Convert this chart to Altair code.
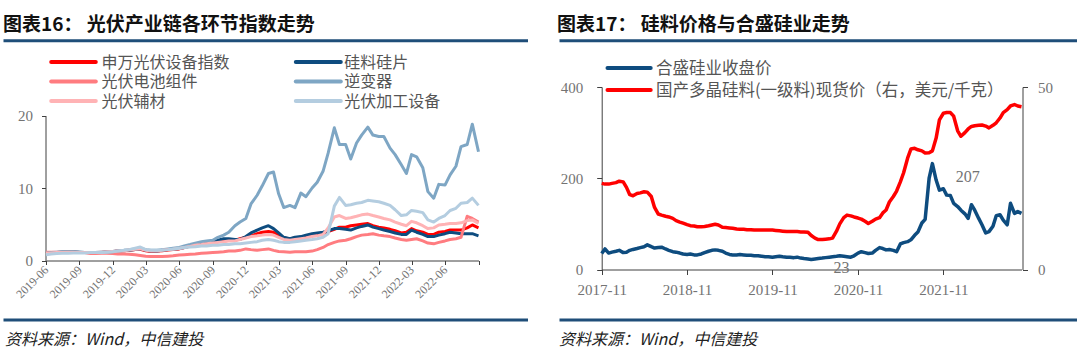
import altair as alt
import pandas as pd

W, H = 1080, 353

# ---------------- left panel: 光伏产业链各环节指数 (semi-monthly samples from 2019-06-01) ----------------
L_START = "2019-06-01"
L_NAMES = ["申万光伏设备指数", "硅料硅片", "光伏电池组件", "逆变器", "光伏辅材", "光伏加工设备"]
L_COLORS = ["#ff0000", "#0e4c7f", "#ff7c80", "#7ea6c4", "#ffb3b5", "#b4cde0"]

sw_index = [1.0, 1.05, 1.1, 1.15, 1.15, 1.15, 1.1, 1.1, 1.05, 1.05,
            1.1, 1.15, 1.2, 1.3, 1.35, 1.4, 1.5, 1.55, 1.35, 1.25,
            1.3, 1.35, 1.45, 1.5, 1.6, 1.8, 2.0, 2.2, 2.3, 2.4,
            2.5, 2.6, 2.7, 2.8, 2.8, 3.0, 3.2, 3.4, 3.7, 3.9,
            4.0, 3.9, 3.5, 3.1, 3.0, 3.1, 3.2, 3.4, 3.5, 3.6,
            3.7, 4.0, 4.3, 4.6, 4.6, 4.8, 4.9, 5.0, 5.1, 4.8,
            4.6, 4.5, 4.3, 4.1, 3.8, 3.9, 4.4, 4.1, 3.9, 3.6,
            3.6, 3.9, 4.0, 4.2, 4.2, 4.2, 4.5, 4.9, 4.5]
silicon_wafer = [1.0, 1.05, 1.1, 1.15, 1.2, 1.2, 1.15, 1.1, 1.1, 1.1,
                 1.15, 1.2, 1.25, 1.3, 1.35, 1.4, 1.5, 1.6, 1.4, 1.3,
                 1.3, 1.4, 1.5, 1.55, 1.65, 1.8, 2.0, 2.2, 2.3, 2.4,
                 2.5, 2.8, 3.0, 3.0, 2.9, 2.9, 3.3, 3.8, 4.2, 4.5,
                 4.8, 4.4, 3.8, 3.2, 3.0, 3.2, 3.3, 3.5, 3.7, 3.8,
                 3.9, 4.1, 4.4, 4.4, 4.3, 4.2, 4.5, 4.7, 4.9, 4.6,
                 4.4, 4.2, 4.0, 3.8, 3.6, 3.6, 4.2, 3.9, 3.6, 3.3,
                 3.3, 3.5, 3.7, 3.9, 3.8, 3.7, 3.7, 3.7, 3.4]
cell_module = [1.15, 1.15, 1.15, 1.15, 1.15, 1.1, 1.1, 1.1, 1.05, 1.0,
               1.0, 1.0, 0.95, 0.9, 0.9, 0.85, 0.8, 0.7, 0.6, 0.55,
               0.55, 0.55, 0.6, 0.65, 0.75, 0.8, 0.85, 0.9, 1.0, 1.05,
               1.1, 1.15, 1.2, 1.3, 1.3, 1.4, 1.6, 1.5, 1.4, 1.5,
               1.6, 1.4, 1.25, 1.2, 1.15, 1.2, 1.2, 1.2, 1.3, 1.5,
               1.8, 2.2, 2.5, 2.7, 2.8, 3.0, 3.3, 3.5, 3.6, 3.7,
               3.5, 3.4, 3.3, 3.1, 2.9, 2.8, 2.9, 3.0, 2.7, 2.4,
               2.3, 2.5, 2.7, 2.9, 3.0, 3.2, 6.1, 5.8, 5.3]
inverter = [1.0, 1.1, 1.15, 1.2, 1.2, 1.2, 1.15, 1.1, 1.1, 1.1,
            1.1, 1.15, 1.2, 1.3, 1.4, 1.5, 1.6, 1.7, 1.5, 1.4,
            1.4, 1.5, 1.6, 1.7, 1.8, 2.0, 2.2, 2.4, 2.6, 2.7,
            2.8, 3.2, 3.5, 3.9, 4.8, 5.3, 5.8, 7.8, 9.0, 10.3,
            12.0, 12.2, 9.2, 7.3, 7.6, 7.3, 9.3, 8.8, 10.0, 10.8,
            12.3, 14.8, 18.3, 16.0, 16.0, 14.0, 16.2, 17.3, 18.4, 17.3,
            17.1, 17.1, 15.5, 14.6, 13.2, 12.0, 14.6, 14.3, 12.8, 9.5,
            8.6, 10.5, 10.4, 11.8, 13.0, 15.7, 16.0, 18.8, 15.0]
auxiliary = [1.0, 1.05, 1.1, 1.1, 1.15, 1.15, 1.1, 1.1, 1.1, 1.1,
             1.15, 1.2, 1.25, 1.3, 1.35, 1.45, 1.55, 1.6, 1.4, 1.3,
             1.35, 1.4, 1.5, 1.55, 1.65, 1.8, 1.95, 2.1, 2.2, 2.3,
             2.4, 2.5, 2.6, 2.7, 2.7, 2.9, 3.1, 3.3, 3.4, 3.5,
             3.6, 3.5, 3.2, 2.9, 2.8, 2.9, 3.0, 3.1, 3.3, 3.4,
             3.6, 4.5, 6.0, 6.2, 5.8, 5.9, 6.1, 6.3, 6.4, 6.2,
             6.0, 5.8, 5.6, 5.3, 5.0, 4.8, 5.4, 5.2, 4.8, 4.4,
             4.5, 4.9, 5.0, 5.1, 5.1, 5.2, 5.5, 5.6, 5.1]
equipment = [0.8, 0.9, 0.95, 1.0, 1.0, 1.05, 1.05, 1.05, 1.1, 1.1,
             1.1, 1.15, 1.2, 1.3, 1.4, 1.5, 1.7, 1.85, 1.5, 1.4,
             1.4, 1.45, 1.5, 1.6, 1.7, 1.8, 1.85, 1.9, 2.0, 2.0,
             2.1, 2.1, 2.2, 2.2, 2.3, 2.3, 2.4, 2.5, 2.6, 2.8,
             2.9, 2.8, 2.6, 2.5, 2.5, 2.6, 2.7, 2.8, 2.9, 3.0,
             3.2, 3.7, 7.5, 8.7, 7.6, 7.7, 7.9, 8.0, 8.3, 8.2,
             8.1, 7.9, 7.6, 7.0, 6.2, 6.3, 6.9, 6.8, 6.6, 5.6,
             5.3, 5.8, 6.2, 6.9, 7.2, 7.9, 8.0, 8.6, 7.6]
L_VALUES = [sw_index, silicon_wafer, cell_module, inverter, auxiliary, equipment]
L_DOMAIN = ["2019-06-01", "2022-09-01"]
L_TICKS = ["2019-06", "2019-09", "2019-12", "2020-03", "2020-06", "2020-09", "2020-12",
           "2021-03", "2021-06", "2021-09", "2021-12", "2022-03", "2022-06", "2022-09"]
L_YTICKS = [0, 10, 20]

# ---------------- right panel: 硅料价格与合盛硅业 (semi-monthly samples from 2017-11-01) ----------------
R_START = "2017-11-01"
R_NAMES = ["合盛硅业收盘价", "国产多晶硅料(一级料)现货价（右，美元/千克）"]
R_COLORS = ["#0e4c7f", "#ff0000"]
hoshine = [35, 45, 36, 38, 40, 42, 37, 38, 42, 44,
           46, 48, 50, 54, 50, 47, 48, 49, 45, 42,
           39, 38, 36, 34, 33, 34, 32, 32, 34, 37,
           40, 42, 43, 42, 40, 36, 33, 32, 32, 33,
           32, 31, 31, 30, 30, 29, 28, 28, 27, 28,
           29, 28, 27, 27, 26, 27, 25, 24, 23, 22,
           23, 24, 25, 26, 27, 28, 29, 30, 29, 28,
           27, 30, 36, 39, 37, 35, 36, 42, 48, 46,
           43, 44, 42, 39, 56, 59, 61, 65, 75, 82,
           102, 110, 200, 232, 196, 174, 177, 163, 162, 145,
           138, 130, 122, 112, 142, 130, 112, 98, 80, 83,
           95, 118, 120, 108, 98, 145, 123, 127, 123]
polysilicon = [23.6, 23.4, 23.4, 23.6, 23.8, 24.2, 24.0, 22.5, 20.5, 20.2,
               20.8, 21.0, 21.3, 21.2, 20.0, 17.0, 15.2, 14.9, 14.6, 14.4,
               14.0, 13.4, 13.0, 12.7, 12.3, 12.0, 11.9, 11.7, 11.7, 11.8,
               12.0, 12.2, 12.4, 12.2, 11.6, 11.5, 11.4, 11.3, 11.1, 11.0,
               11.0, 10.9, 10.9, 10.8, 10.8, 10.8, 10.8, 10.8, 10.8, 10.7,
               10.6, 10.5, 10.4, 10.4, 10.4, 10.4, 10.3, 10.3, 10.2, 9.3,
               8.6, 8.2, 8.2, 8.3, 8.4, 8.6, 10.5, 12.5, 14.2, 14.9,
               14.7, 14.4, 14.1, 13.8, 13.2, 12.6, 13.2, 13.8, 14.2, 15.5,
               16.3, 18.5, 20.0, 21.5, 24.0, 26.5, 30.5, 33.0, 33.2, 32.8,
               32.5, 31.9, 32.0, 32.5, 36.0, 41.0, 42.8, 43.0, 43.0, 42.0,
               38.0, 36.5, 37.5, 38.5, 39.2, 39.4, 39.5, 39.6, 39.3, 38.8,
               39.5, 40.2, 41.5, 43.0, 43.8, 44.8, 45.2, 44.8, 44.6]
R_DOMAIN = ["2017-11-01", "2022-10-01"]
R_TICKS = ["2017-11", "2018-11", "2019-11", "2020-11", "2021-11"]
R_YTICKS_L = [0, 200, 400]
R_YTICKS_R = [0, 50]
ANN_TEXT = ["207", "23"]
ANN_DATE = ["2022-02-13", "2020-08-22"]
ANN_VALUE = [203, 3]

TITLES = ["图表16： 光伏产业链各环节指数走势", "图表17： 硅料价格与合盛硅业走势"]
SOURCE = "资料来源：Wind，中信建投"

# ---------------- styling / layout (pixels) ----------------
CJK = "Noto Sans CJK SC"
SERIF = "Liberation Serif"
AX = "#404040"
LAB = "#737373"
LEG = "#555555"
NAVY = "#1f4e79"

LX0, LX1, LYAX = 46.0, 478.5, 45.5
LY0, LY1 = 260.5, 115.5
RX0, RX1, RXR = 601.7, 1021.5, 1022.5
RY0, RY1 = 269.5, 87.0

ONE = alt.InlineData(values=[{"k": 0}])


def dt(s):
    p = [int(v) for v in s.split("-")]
    return alt.DateTime(year=p[0], month=p[1], date=p[2] if len(p) > 2 else 1)


def xenc(dom, r0, r1, axis):
    return alt.X("date:T", scale=alt.Scale(domain=[dt(dom[0]), dt(dom[1])], range=[r0, r1], nice=False), axis=axis)


def yenc(dom, r0, r1, axis):
    return alt.Y("v:Q", scale=alt.Scale(domain=dom, range=[r0, r1], nice=False, zero=False), axis=axis)


layers = []

# ---- left panel lines ----
l_dates = pd.date_range(L_START, periods=len(sw_index), freq="SMS")
lx_axis = alt.Axis(orient="bottom", offset=LY0 - H, values=[dt(t) for t in L_TICKS], format="%Y-%m",
                   labelExpr="year(datum.value) == 2022 && month(datum.value) == 8 ? '' : datum.label",
                   labelAngle=315, labelAlign="right", labelBaseline="middle", labelFont=SERIF,
                   labelFontSize=12, labelColor=LAB, labelPadding=3, tickSize=4, labelOverlap=False,
                   labelFlush=False, domainColor=AX, tickColor=AX, title="", grid=False)
ly_axis = alt.Axis(orient="left", offset=-LYAX, values=L_YTICKS, labelFont=SERIF, labelFontSize=15,
                   labelColor=LAB, labelPadding=9, tickSize=4, domainColor=AX, tickColor=AX,
                   title="", grid=False)
for i, (name, color, vals) in enumerate(zip(L_NAMES, L_COLORS, L_VALUES)):
    df = pd.DataFrame({"date": l_dates, "v": vals, "series": name})
    first = i == 0
    layers.append(
        alt.Chart(df).mark_line(color=color, strokeWidth=3, strokeJoin="round").encode(
            x=xenc(L_DOMAIN, LX0, LX1, lx_axis if first else None),
            y=yenc([0, 20], LY0, LY1, ly_axis if first else None),
        )
    )

# ---- right panel lines ----
r_dates = pd.date_range(R_START, periods=len(hoshine), freq="SMS")
rx_axis = alt.Axis(orient="bottom", offset=RY0 - H, values=[dt(t) for t in R_TICKS], format="%Y-%m",
                   labelAngle=0, labelAlign="center", labelBaseline="top", labelFont=SERIF,
                   labelFontSize=15, labelColor=LAB, labelPadding=8, tickSize=5, labelOverlap=False,
                   labelFlush=False, domainColor=AX, tickColor=AX, title="", grid=False)
ryl_axis = alt.Axis(orient="left", offset=-RX0, values=R_YTICKS_L, labelFont=SERIF, labelFontSize=15,
                    labelColor=LAB, labelPadding=14, tickSize=5, domainColor=AX, tickColor=AX,
                    title="", grid=False)
ryr_axis = alt.Axis(orient="right", offset=RXR - W, values=R_YTICKS_R, labelFont=SERIF, labelFontSize=15,
                    labelColor=LAB, labelPadding=10, tickSize=5, domainColor=AX, tickColor=AX,
                    title="", grid=False)

df_h = pd.DataFrame({"date": r_dates, "v": hoshine})
df_p = pd.DataFrame({"date": r_dates, "v": polysilicon})
layers.append(
    alt.Chart(df_h).mark_line(color=R_COLORS[0], strokeWidth=3.5, strokeJoin="round").encode(
        x=xenc(R_DOMAIN, RX0, RX1, rx_axis), y=yenc([0, 400], RY0, RY1, ryl_axis))
)
layers.append(
    alt.Chart(df_p).mark_line(color=R_COLORS[1], strokeWidth=3.5, strokeJoin="round").encode(
        x=xenc(R_DOMAIN, RX0, RX1, None), y=yenc([0, 50], RY0, RY1, ryr_axis))
)
df_ann = pd.DataFrame({"date": pd.to_datetime(ANN_DATE), "v": ANN_VALUE, "label": ANN_TEXT})
layers.append(
    alt.Chart(df_ann).mark_text(font=SERIF, fontSize=16, color=LAB, align="center", baseline="middle").encode(
        x=xenc(R_DOMAIN, RX0, RX1, None), y=yenc([0, 400], RY0, RY1, None), text="label:N")
)


# ---- decorations: titles, separators, sources ----
def text_layer(txt, x, y, **kw):
    return alt.Chart(ONE).mark_text(text=txt, align="left", baseline="middle", **kw).encode(
        x=alt.value(x), y=alt.value(y))


def rule_layer(x0, x1, y, color, width, cap="butt"):
    return alt.Chart(ONE).mark_rule(color=color, strokeWidth=width, strokeCap=cap).encode(
        x=alt.value(x0), x2=alt.value(x1), y=alt.value(y))


for title, x in zip(TITLES, [3, 557]):
    layers.append(text_layer(title, x, 24.5, font=CJK, fontSize=19, fontWeight="bold", color="#111111"))
for x0, x1 in [(3.5, 528), (559.5, 1077)]:
    layers.append(rule_layer(x0, x1, 40.7, NAVY, 3))
    layers.append(rule_layer(x0, x1, 320, NAVY, 3))
for x in [5, 559]:
    layers.append(text_layer(SOURCE, x, 339.5, font=CJK, fontSize=16, fontStyle="italic", color="#222222"))

# ---- legends (drawn as key lines + labels) ----
L_COLS = [(51.2, 95.8, 101.4), (295.8, 340.8, 344.3)]
L_ROWS = [62, 81.5, 101]
for i, (name, color) in enumerate(zip(L_NAMES, L_COLORS)):
    x0, x1, xt = L_COLS[i % 2]
    y = L_ROWS[i // 2]
    layers.append(rule_layer(x0, x1, y, color, 4, "round"))
    layers.append(text_layer(name, xt, y + 0.5, font=CJK, fontSize=16, color=LEG))

R_ROWS = [68, 90]
for name, color, y in zip(R_NAMES, R_COLORS, R_ROWS):
    layers.append(rule_layer(607.5, 650.7, y, color, 4, "round"))
    layers.append(text_layer(name, 656, y + 0.5, font=CJK, fontSize=16.5, color=LEG))

chart = alt.layer(*layers).resolve_scale(x="independent", y="independent").properties(
    width=W, height=H, padding=0, autosize=alt.AutoSizeParams(type="none"), background="white"
).configure_view(strokeWidth=0).configure_axis(grid=False)

chart.save("out.html", embed_options={"renderer": "svg", "actions": False})
